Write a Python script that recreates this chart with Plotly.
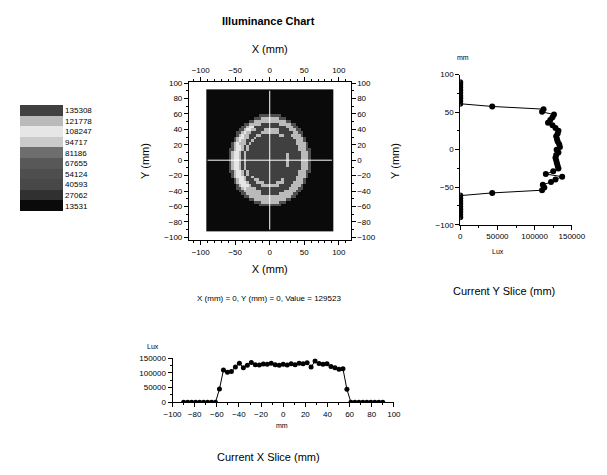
import numpy as np
import plotly.graph_objects as go

W, H = 607, 475

# ---------------- data ----------------
positions_mm = [-90.0, -86.4, -82.8, -79.2, -75.6, -72.0, -68.4, -64.8, -61.2,
                -57.6, -54.0, -50.4, -46.8, -43.2, -39.6, -36.0, -32.4, -28.8,
                -25.2, -21.6, -18.0, -14.4, -10.8, -7.2, -3.6, 0.0, 3.6, 7.2,
                10.8, 14.4, 18.0, 21.6, 25.2, 28.8, 32.4, 36.0, 39.6, 43.2,
                46.8, 50.4, 54.0, 57.6, 61.2, 64.8, 68.4, 72.0, 75.6, 79.2,
                82.8, 86.4, 90.0]

x_slice_lux = [0, 0, 0, 0, 0, 0, 0, 0, 0,
               45000, 110000, 102000, 105000, 120000, 133000, 117000, 126000, 135000,
               128000, 127000, 130000, 129000, 133000, 128000, 126000, 129523, 127000, 131000,
               128000, 133000, 131000, 134000, 120000, 140000, 132000, 129000, 131000, 122000,
               117000, 112000, 114000, 44000, 0, 0, 0, 0, 0, 0,
               0, 0, 0]

y_slice_lux = [0, 0, 0, 0, 0, 0, 0, 0, 0,
               43000, 110000, 113000, 111000, 122000, 128000, 137000, 115000, 125000,
               132000, 131000, 130000, 129000, 128000, 129000, 132000, 129523, 134000, 133000,
               131000, 130000, 129000, 131000, 132000, 128000, 124000, 118000, 121000, 124000,
               126000, 110000, 112000, 43000, 0, 0, 0, 0, 0, 0,
               0, 0, 0]

legend_levels = [13531, 27062, 40593, 54124, 67655, 81186, 94717, 108247, 121778, 135308]

# ---------------- styles ----------------
band_grays = ["#0a0a0a", "#303030", "#484848", "#4e4e4e", "#585858",
              "#6e6e6e", "#cacaca", "#e6e6e6", "#bababa", "#404040"]
FONT = "Liberation Sans, Arial, sans-serif"


def px_x(p):
    return p / W


def px_y(p):
    return 1 - p / H


# ---------------- heat-map table built from the slices ----------------
P = np.array(positions_mm)
xs = np.array(x_slice_lux, dtype=float)
ys = np.array(y_slice_lux, dtype=float)
grid = []
for yv in positions_mm:
    row = []
    for xv in positions_mm:
        r = float(np.hypot(xv, yv))
        ix = int(np.argmin(np.abs(P - np.copysign(r, xv))))
        iy = int(np.argmin(np.abs(P - np.copysign(r, yv))))
        w = xv * xv / (r * r) if r > 0 else 1.0
        row.append(w * xs[ix] + (1 - w) * ys[iy])
    grid.append(row)

zmax = legend_levels[-1]
n = len(legend_levels)
colorscale = []
for k, c in enumerate(band_grays):
    colorscale.append([k / n, c])
    colorscale.append([(k + 1) / n, c])
band = zmax / n
tickvals = [lv - band / 2 for lv in legend_levels]

fig = go.Figure()

fig.add_trace(go.Heatmap(
    x=positions_mm, y=positions_mm, z=grid,
    colorscale=colorscale, zmin=0, zmax=zmax,
    xaxis="x", yaxis="y", hoverinfo="skip",
    colorbar=dict(
        x=px_x(11), xanchor="left", y=px_y(157), yanchor="middle",
        thickness=43, thicknessmode="pixels", len=106, lenmode="pixels",
        xpad=0, ypad=0, outlinewidth=0, ticks="",
        tickvals=tickvals, ticktext=[str(v) for v in legend_levels],
        tickfont=dict(family=FONT, size=8, color="black"),
    ),
))
# phantom trace so the top/right mirror axes exist
fig.add_trace(go.Scatter(x=[None], y=[None], xaxis="x2", yaxis="y2",
                         showlegend=False, hoverinfo="skip"))

fig.add_trace(go.Scatter(
    x=y_slice_lux, y=positions_mm, xaxis="x3", yaxis="y3",
    mode="lines+markers", line=dict(color="black", width=1),
    marker=dict(color="black", size=6), showlegend=False, hoverinfo="skip"))

fig.add_trace(go.Scatter(
    x=positions_mm, y=x_slice_lux, xaxis="x4", yaxis="y4",
    mode="lines+markers", line=dict(color="black", width=1),
    marker=dict(color="black", size=5), showlegend=False, hoverinfo="skip"))

tick_font = dict(family=FONT, size=8, color="black")
common = dict(showgrid=False, zeroline=False, showline=True, linecolor="black",
              linewidth=1, ticks="outside", ticklen=4, tickcolor="black",
              tickfont=tick_font)
minor_style = dict(ticks="outside", ticklen=2, tickcolor="black")
title_font = dict(family=FONT, size=11, color="black")

hx_dom = [px_x(187), px_x(355)]
hy_dom = [px_y(241), px_y(79)]
hx_rng = [-117, 117]
hy_rng = [-104, 102]

fig.update_layout(
    width=W, height=H, margin=dict(l=0, r=0, t=0, b=0),
    paper_bgcolor="white", plot_bgcolor="white", showlegend=False,
    font=dict(family=FONT, color="black"),
    xaxis=dict(domain=hx_dom, range=hx_rng, anchor="y", dtick=50, tick0=0,
               minor=dict(dtick=10, **minor_style), mirror=True,
               title=dict(text="X (mm)", font=title_font, standoff=9), **common),
    xaxis2=dict(domain=hx_dom, range=hx_rng, anchor="y2", overlaying="x", side="top",
                dtick=50, tick0=0, minor=dict(dtick=10, **minor_style),
                title=dict(text="X (mm)", font=title_font, standoff=10), **common),
    yaxis=dict(domain=hy_dom, range=hy_rng, anchor="x", dtick=20, tick0=0,
               minor=dict(dtick=10, **minor_style), mirror=True,
               title=dict(text="Y (mm)", font=title_font, standoff=12), **common),
    yaxis2=dict(domain=hy_dom, range=hy_rng, anchor="x2", overlaying="y", side="right",
                dtick=20, tick0=0, minor=dict(dtick=10, **minor_style),
                title=dict(text="Y (mm)", font=title_font, standoff=16), **common),
    xaxis3=dict(domain=[px_x(469), px_x(585)], range=[0, 150000], anchor="y3",
                dtick=50000, tick0=0, tickformat="d",
                minor=dict(dtick=25000, **minor_style), **common),
    yaxis3=dict(domain=[px_y(225), px_y(72)], range=[-100, 100], anchor="x3",
                dtick=50, tick0=0, minor=dict(dtick=25, **minor_style), **common),
    xaxis4=dict(domain=[px_x(170), px_x(400)], range=[-100, 100], anchor="y4",
                dtick=20, tick0=0, minor=dict(dtick=10, **minor_style), **common),
    yaxis4=dict(domain=[px_y(406), px_y(361)], range=[0, 150000], anchor="x4",
                dtick=50000, tick0=0, tickformat="d",
                minor=dict(dtick=25000, **minor_style), **common),
)

# white cross-hair over the image
fig.add_shape(type="line", xref="x", yref="y", x0=0, x1=0, y0=positions_mm[0], y1=positions_mm[-1],
              line=dict(color="white", width=1))
fig.add_shape(type="line", xref="x", yref="y", y0=0, y1=0, x0=positions_mm[0], x1=positions_mm[-1],
              line=dict(color="white", width=1))

centre_val = x_slice_lux[positions_mm.index(0.0)]
annos = [
    ("<b>Illuminance Chart</b>", 270, 17, 11),
    (f"X (mm) = 0, Y (mm) = 0, Value = {centre_val}", 270, 300, 8),
    ("Current Y Slice (mm)", 515, 293, 11),
    ("Current X Slice (mm)", 270, 462, 11),
    ("Lux", 508, 252, 7),
    ("mm", 472, 55, 7),
    ("Lux", 150, 349, 7),
    ("mm", 284, 430, 7),
]
for text, ax_, ay_, fs in annos:
    fig.add_annotation(text=text, xref="paper", yref="paper", x=px_x(ax_), y=px_y(ay_),
                       xanchor="center", yanchor="middle", showarrow=False,
                       font=dict(family=FONT, size=fs, color="black"))

fig.write_html("out.html", config={"displayModeBar": False},
               post_script="document.body.style.margin='0';document.body.style.overflow='hidden';")
